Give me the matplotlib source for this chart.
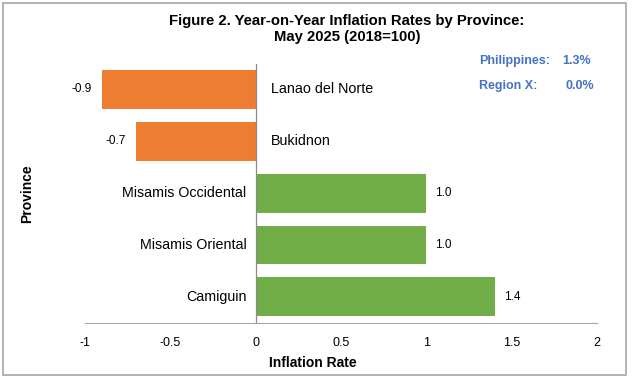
import matplotlib
matplotlib.use('Agg')
import matplotlib.pyplot as plt
from matplotlib.patches import Rectangle

plt.rcParams['font.family'] = ['Liberation Sans', 'DejaVu Sans']

provinces = ['Camiguin', 'Misamis Oriental', 'Misamis Occidental', 'Bukidnon', 'Lanao del Norte']
rates = [1.4, 1.0, 1.0, -0.7, -0.9]
xticks = [-1, -0.5, 0, 0.5, 1, 1.5, 2]
xtick_labels = ['-1', '-0.5', '0', '0.5', '1', '1.5', '2']

orange = '#ED7D31'
green = '#70AD47'
blue = '#4472C4'

fig = plt.figure(figsize=(6.33, 3.81), dpi=100)
ax = fig.add_axes([0.1343, 0.153, 0.8088, 0.6803])

colors = [green if r >= 0 else orange for r in rates]
ypos = list(range(len(provinces)))
ax.barh(ypos, rates, height=0.75, color=colors, zorder=2)

ax.set_xlim(-1, 2)
ax.set_ylim(-0.5, len(provinces) - 0.5)
ax.set_xticks(xticks)
ax.set_xticklabels(xtick_labels, fontsize=9)
ax.tick_params(axis='x', length=0, pad=10)
ax.set_yticks([])

for s in ['top', 'right', 'left']:
    ax.spines[s].set_visible(False)
ax.spines['bottom'].set_color('#A6A6A6')
ax.axvline(0, color='#8C8C8C', lw=0.9, zorder=3)

for y, r, name in zip(ypos, rates, provinces):
    if r >= 0:
        ax.text(-0.053, y, name, ha='right', va='center', fontsize=10.3)
        ax.text(r + 0.053, y, f'{r:.1f}', ha='left', va='center', fontsize=8.5)
    else:
        ax.text(0.088, y, name, ha='left', va='center', fontsize=10.3)
        ax.text(r - 0.06, y, f'{r:.1f}', ha='right', va='center', fontsize=8.5)

ax.set_xlabel('Inflation Rate', fontsize=10, fontweight='bold')
ax.xaxis.set_label_coords(0.445, -0.127)
fig.text(0.043, 0.492, 'Province', rotation=90, ha='center', va='center',
         fontsize=10, fontweight='bold')

fig.text(0.548, 0.962, 'Figure 2. Year-on-Year Inflation Rates by Province:\nMay 2025 (2018=100)',
         ha='center', va='top', fontsize=10.7, fontweight='bold', linespacing=1.1)

fig.text(0.757, 0.84, 'Philippines:', ha='left', va='center',
         fontsize=9, fontweight='bold', color=blue)
fig.text(0.889, 0.84, '1.3%', ha='left', va='center',
         fontsize=9, fontweight='bold', color=blue)
fig.text(0.757, 0.774, 'Region X:', ha='left', va='center',
         fontsize=9, fontweight='bold', color=blue)
fig.text(0.893, 0.774, '0.0%', ha='left', va='center',
         fontsize=9, fontweight='bold', color=blue)

fig.patches.append(Rectangle((0.005, 0.016), 0.984, 0.976, transform=fig.transFigure,
                             fill=False, edgecolor='#A6A6A6', lw=1.2))

fig.savefig('out.png', dpi=100)
